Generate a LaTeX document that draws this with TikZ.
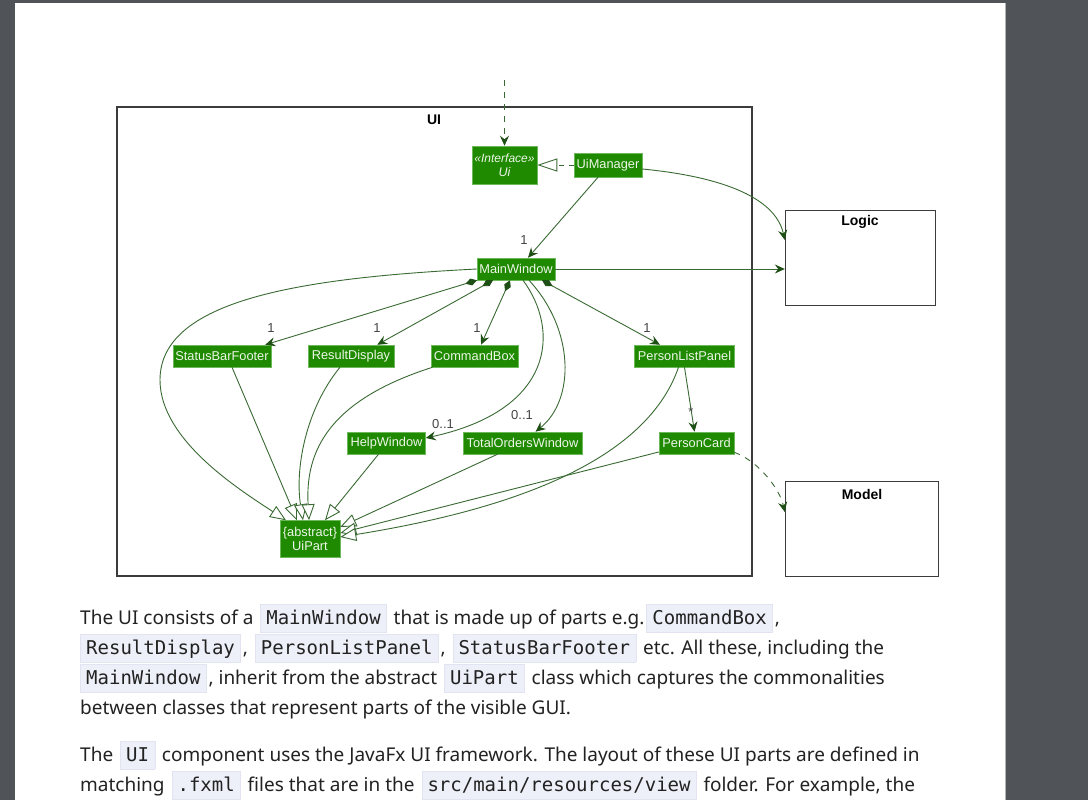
\documentclass[tikz,border=0pt]{standalone}
\usepackage{fontspec}
\setmainfont{Liberation Sans}
\newfontfamily\codefont{DejaVu Sans Mono}
\newfontfamily\bodyfont{Noto Sans}
\usetikzlibrary{arrows.meta,calc}
\definecolor{pagebg}{HTML}{505458}
\definecolor{uigreen}{HTML}{1F8A00}
\definecolor{uiborder}{HTML}{6DB85A}
\definecolor{uitext}{HTML}{EEF6EA}
\definecolor{edgecol}{HTML}{3A6A33}
\definecolor{tipcol}{HTML}{1E4F14}
\definecolor{multcol}{HTML}{444444}
\definecolor{framecol}{HTML}{3C3C3C}
\definecolor{bodytext}{HTML}{222222}
\definecolor{codebg}{HTML}{EEF0F9}
\definecolor{codeborder}{HTML}{E2E5F1}
\newcommand{\code}[1]{\hspace{2pt}{\setlength{\fboxsep}{0pt}\setlength{\fboxrule}{0.5pt}\fcolorbox{codeborder}{codebg}{\hspace{5.5pt}\rule[-7.5pt]{0pt}{27pt}{\codefont\fontsize{19}{22}\selectfont #1}\hspace{5.5pt}}}\hspace{2pt}}
\begin{document}
\begin{tikzpicture}[x=1pt,y=-1pt,
  cls/.style={fill=uigreen, draw=uiborder, line width=0.5pt, text=uitext,
    font=\fontsize{12.8}{14}\selectfont, inner sep=0pt, minimum height=22pt, align=center},
  frame/.style={draw=framecol, line width=1.4pt, inner sep=0pt},
  ttl/.style={font=\bfseries\fontsize{14}{14}\selectfont, inner sep=0pt, text=black},
  edge/.style={draw=edgecol, line width=0.9pt},
  arr/.style={-{Stealth[length=10pt,width=9pt,inset=3.5pt,color=tipcol,fill=tipcol]}},
  comp/.style={{Diamond[length=12pt,width=7pt,color=tipcol,fill=tipcol]}-{Stealth[length=10pt,width=9pt,inset=3.5pt,color=tipcol,fill=tipcol]}},
  inh/.style={-{Triangle[length=16pt,width=13pt,fill=white,color=edgecol]}},
  mult/.style={text=multcol, font=\fontsize{13}{13}\selectfont, inner sep=0pt},
  textline/.style={anchor=base west, inner sep=0pt, font=\bodyfont\fontsize{19}{22}\selectfont, text=bodytext}
]
\fill[pagebg] (0,0) rectangle (1088,800);
\fill[white] (15,3) rectangle (1005,800);
\draw[gray!60, line width=0.8pt] (1005.4,3) -- (1005.4,800);
\useasboundingbox (0,0) rectangle (1088,800);

% frames
\node[frame, minimum width=635pt, minimum height=469pt] (uif) at (434.5,341.5) {};
\node[ttl] (uit) at (434,120) {UI};
\node[frame, minimum width=150pt, minimum height=95pt] (logic) at (860.5,258) {};
\node[ttl] (logict) at (860,222) {Logic};
\node[frame, minimum width=153pt, minimum height=95pt] (model) at (862,529) {};
\node[ttl] (modelt) at (862,494) {Model};

% classes
\node[cls, minimum width=65pt, minimum height=38pt, font=\itshape\fontsize{12.5}{14}\selectfont] (ui) at (504.5,165) {{\fontsize{12}{13}\selectfont «Interface»}\\Ui};
\node[cls, minimum width=68pt, minimum height=24pt] (uim) at (608,165) {UiManager};
\node[cls, minimum width=78pt] (mw) at (516,269) {MainWindow};
\node[cls, minimum width=98pt] (sbf) at (222,356) {StatusBarFooter};
\node[cls, minimum width=86pt] (rd) at (351,356) {ResultDisplay};
\node[cls, minimum width=87pt] (cb) at (474.5,356) {CommandBox};
\node[cls, minimum width=100pt] (plp) at (684.5,356) {PersonListPanel};
\node[cls, minimum width=78pt] (hw) at (386.5,443) {HelpWindow};
\node[cls, minimum width=119pt] (tow) at (522.5,443) {TotalOrdersWindow};
\node[cls, minimum width=75pt] (pc) at (696.5,443) {PersonCard};
\node[cls, minimum width=60pt, minimum height=37pt] (up) at (310,539) {\{abstract\}\\UiPart};

% incoming dashed arrow to Ui
\coordinate (topin) at (504.5,80);
\draw[edge, dash pattern=on 6pt off 6pt, arr] (topin) -- (ui.north);
\draw[edge, dash pattern=on 5pt off 5pt, -{Triangle[length=20pt,width=13pt,fill=white,color=edgecol]}] (uim.west) -- (ui.east);

% UiManager
\draw[edge, arr] ([xshift=-10pt]uim.south) -- ([xshift=12pt]mw.north);
\node[mult] (m0) at (524,240) {1};
\draw[edge, arr] ([yshift=-4pt]uim.east) .. controls (715,176) and (775,195) .. ([yshift=18pt]logic.west);
\draw[edge, arr] (mw.east) -- (mw.east -| logic.west);

% compositions
\draw[edge, comp] ([xshift=-39pt]mw.south) -- ([xshift=-6pt]sbf.north east);
\node[mult] (m1) at (271,328) {1};
\draw[edge, comp] ([xshift=-23pt]mw.south) -- ([xshift=-17pt]rd.north east);
\node[mult] (m2) at (377,328) {1};
\draw[edge, comp] ([xshift=-6pt]mw.south) -- ([xshift=6.5pt]cb.north);
\node[mult] (m3) at (477,328) {1};
\draw[edge, comp] ([xshift=26pt]mw.south) -- ([xshift=-24.5pt]plp.north);
\node[mult] (m4) at (647,328) {1};

% associations
\draw[edge, arr] ([xshift=7pt]mw.south) .. controls (560,330) and (555,410) .. ([yshift=5pt]hw.east);
\node[mult] (m5) at (443,424) {0..1};
\draw[edge, arr] ([xshift=13pt]mw.south) .. controls (575,330) and (575,400) .. ([xshift=13pt]tow.north);
\node[mult] (m6) at (522,415) {0..1};
\draw[edge, arr] (plp.south) -- ([xshift=-2pt]pc.north);
\node[mult] (m7) at (691,412) {*};
\draw[edge, dash pattern=on 6pt off 6pt, arr] ([yshift=2pt]pc.south east) .. controls (760,462) and (780,490) .. ([yshift=17pt]model.west);

% inheritance
\draw[edge, inh] (mw.west) .. controls (300,278) and (160,300) .. (160,380) .. controls (160,440) and (240,490) .. ([xshift=-24pt]up.north);
\draw[edge, inh] ([xshift=10pt]sbf.south) -- ([xshift=-13pt]up.north);
\draw[edge, inh] ([xshift=-11pt]rd.south) .. controls (305,410) and (295,470) .. ([xshift=-7pt]up.north);
\draw[edge, inh] ([xshift=-42pt]cb.south) .. controls (330,400) and (305,450) .. ([xshift=-1pt]up.north);
\draw[edge, inh] ([xshift=-8pt]hw.south) -- ([xshift=15pt]up.north);
\draw[edge, inh] ([xshift=-25pt]tow.south) -- ([yshift=12pt]up.east);
\draw[edge, inh] ([yshift=-9pt]pc.west) -- ([yshift=6pt]up.east);
\draw[edge, inh] ([xshift=-6pt]plp.south) .. controls (650,450) and (540,505) .. ([yshift=2pt]up.east);

% body text
\node[textline] (t1) at (80,624) {The UI consists of a \code{MainWindow} that is made up of parts e.g.\code{CommandBox},};
\node[textline] (t2) at (78,654) {\code{ResultDisplay}, \code{PersonListPanel}, \code{StatusBarFooter} etc. All these, including the};
\node[textline] (t3) at (78,684) {\code{MainWindow}, inherit from the abstract \code{UiPart} class which captures the commonalities};
\node[textline] (t4) at (80,714) {between classes that represent parts of the visible GUI.};
\node[textline] (t5) at (80,761) {The \code{UI} component uses the JavaFx UI framework. The layout of these UI parts are defined in};
\node[textline] (t6) at (80,791) {matching \code{.fxml} files that are in the \code{src/main/resources/view} folder. For example, the};
\end{tikzpicture}
\end{document}
